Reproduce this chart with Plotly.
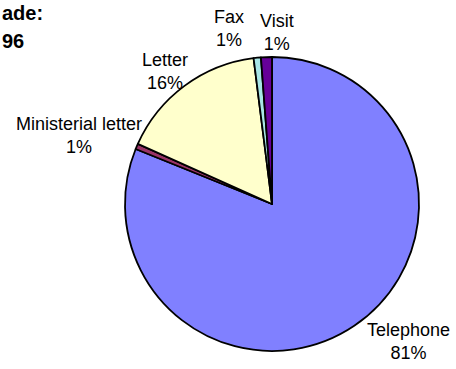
import plotly.graph_objects as go

categories = ["Telephone", "Ministerial letter", "Letter", "Fax", "Visit"]
values = [81.1, 0.6, 16.3, 0.8, 1.2]
colors = ["#8080FF", "#993366", "#FFFFCC", "#A8E6E6", "#660099"]
pct_labels = ["81%", "1%", "16%", "1%", "1%"]
title_lines = ["ade:", "96"]

W, H = 456, 369
cx, cy, r = 272, 204, 147

fig = go.Figure()
fig.add_trace(go.Pie(
    labels=categories, values=values, sort=False, direction="clockwise", rotation=0,
    marker=dict(colors=colors, line=dict(color="black", width=1.8)),
    textinfo="none", hoverinfo="label+percent", showlegend=False,
    domain=dict(x=[(cx - r) / W, (cx + r) / W], y=[(H - cy - r) / H, (H - cy + r) / H]),
))

# label anchor positions (pixels from top-left)
label_pos = {
    "Telephone": (408, 341),
    "Ministerial letter": (79, 135),
    "Letter": (165, 71),
    "Fax": (229, 29),
    "Visit": (277, 32),
}
for cat, pct in zip(categories, pct_labels):
    px, py = label_pos[cat]
    fig.add_annotation(
        x=px / W, y=1 - py / H, xref="paper", yref="paper",
        text=f"{cat}<br>{pct}", showarrow=False, xanchor="center", yanchor="middle",
        font=dict(family="Liberation Sans, Arial", size=18, color="black"),
    )

title_y = [13, 41]
for line, ty in zip(title_lines, title_y):
    fig.add_annotation(
        x=0, y=1 - ty / H, xref="paper", yref="paper",
        text=f"<b>{line}</b>", showarrow=False,
        xanchor="left", yanchor="middle", align="left",
        font=dict(family="Liberation Sans, Arial", size=20, color="black"),
    )

fig.update_layout(
    width=W, height=H, margin=dict(l=0, r=0, t=0, b=0),
    paper_bgcolor="white", plot_bgcolor="white",
)
fig.write_html("out.html")
